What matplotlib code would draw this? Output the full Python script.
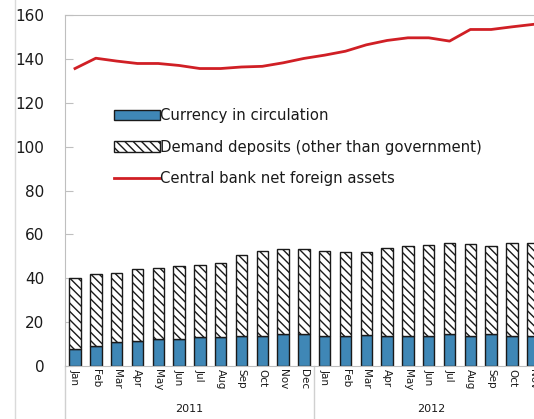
import matplotlib
matplotlib.use("Agg")
import matplotlib.pyplot as plt
from matplotlib.lines import Line2D
import numpy as np

plt.rcParams["font.family"] = ["DejaVu Sans"]
plt.rcParams["hatch.linewidth"] = 1.0

# ── Data ──────────────────────────────────────────────────────────────────────
months = ["Jan", "Feb", "Mar", "Apr", "May", "Jun", "Jul", "Aug", "Sep", "Oct", "Nov", "Dec",
          "Jan", "Feb", "Mar", "Apr", "May", "Jun", "Jul", "Aug", "Sep", "Oct", "Nov"]
years = ["2011", "2012"]
currency = [7.6, 9.3, 10.8, 11.6, 12.3, 12.3, 13.1, 13.1, 13.7, 13.7, 14.5, 14.5,
            13.8, 13.7, 14.0, 13.8, 13.7, 13.8, 14.5, 13.7, 14.5, 13.6, 13.6]
total_money = [40.0, 42.0, 42.6, 44.0, 44.7, 45.6, 46.2, 46.8, 50.8, 52.5, 53.2, 53.2,
               52.6, 52.0, 52.0, 53.9, 54.8, 55.2, 56.0, 55.4, 54.8, 56.0, 56.0]
deposits = [t - c for t, c in zip(total_money, currency)]
nfa = [135.6, 140.3, 139.0, 137.9, 137.9, 137.0, 135.6, 135.6, 136.3, 136.6, 138.2, 140.2,
       141.7, 143.5, 146.4, 148.4, 149.6, 149.6, 148.1, 153.4, 153.4, 154.6, 155.7]

BLUE = "#3F87B6"
RED = "#D01F25"
GRID = "#BFBFBF"
TXT = "#1A1A1A"

fig = plt.figure(figsize=(5.34, 4.19), dpi=100)
# axes run past the right edge of the figure (reference is cropped)
ax = fig.add_axes([65 / 534, 53 / 419, 499 / 534, 351 / 419])

x = np.arange(len(months))
b1 = ax.bar(x, currency, width=0.55, color=BLUE, edgecolor="#1A1A1A", linewidth=1.0,
            label="Currency in circulation", zorder=2)
b2 = ax.bar(x, deposits, bottom=currency, width=0.55, color="white", edgecolor="#1A1A1A",
            hatch="\\\\\\\\", linewidth=1.0,
            label="Demand deposits (other than government)", zorder=2)
ln, = ax.plot(x, nfa, color=RED, lw=2.0, label="Central bank net foreign assets", zorder=3)

ax.set_xlim(-0.48, 23.5)
ax.set_ylim(0, 160)
ax.set_yticks(range(0, 161, 20))
ax.tick_params(axis="y", direction="in", length=6, color=GRID, labelsize=11,
               labelcolor=TXT, pad=15)
ax.set_xticks(x)
ax.set_xticklabels(months, rotation=-90, fontsize=7.5, color=TXT)
ax.tick_params(axis="x", length=0, pad=2)

for s in ["left", "top", "bottom"]:
    ax.spines[s].set_color(GRID)
ax.spines["right"].set_visible(False)

# year group separators and labels below the month labels
for sx in [-0.48, 11.5]:
    ax.plot([sx, sx], [0, -24], color="#D0D0D0", lw=1.0, clip_on=False)
ax.text(5.5, -19.5, years[0], ha="center", va="center", fontsize=8, color=TXT)
ax.text(17.1, -19.5, years[1], ha="center", va="center", fontsize=8, color=TXT)

ax.legend(handles=[b1, b2, ln], loc="upper left", bbox_to_anchor=(0.084, 0.755),
          frameon=False, fontsize=10.7, handlelength=3.1, handletextpad=0.0,
          labelspacing=1.1, labelcolor=TXT, borderpad=0)

# thin gray image border on the far left
fig.add_artist(Line2D([15 / 534, 15 / 534], [0, 1], color="#DADADA", lw=1.0))

fig.savefig("out.png", dpi=100, facecolor="white")
